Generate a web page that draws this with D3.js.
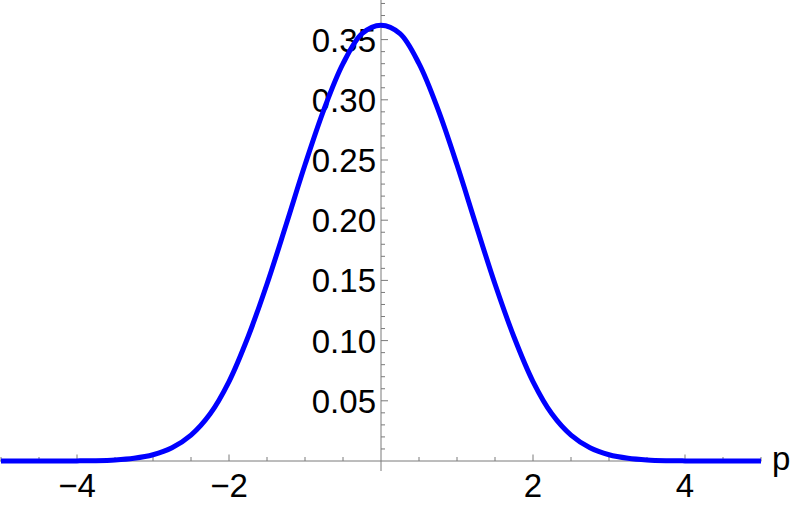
<!DOCTYPE html>
<html>
<head>
<meta charset="utf-8">
<script src="https://cdn.jsdelivr.net/npm/d3@7"></script>
<style>
  html, body { margin: 0; padding: 0; background: #fff; }
  svg { display: block; }
  text { font-family: "Liberation Sans", Arial, Helvetica, sans-serif; }
</style>
</head>
<body>
<svg id="chart" width="793" height="505"></svg>
<script>
// ---- data ----
const pValues = [-5, -4.5, -4, -3.75, -3.5, -3.25, -3, -2.75, -2.5, -2.25, -2, -1.75, -1.5, -1.25, -1, -0.75, -0.5, -0.25, 0,
                 0.25, 0.5, 0.75, 1, 1.25, 1.5, 1.75, 2, 2.25, 2.5, 2.75, 3, 3.25, 3.5, 3.75, 4, 4.5, 5];
const density = [0, 0.00001, 0.0001, 0.0003, 0.0009, 0.0023, 0.0052, 0.011, 0.0215, 0.039, 0.066, 0.103, 0.147, 0.196, 0.246, 0.292, 0.330, 0.355, 0.362,
                 0.355, 0.330, 0.292, 0.246, 0.196, 0.147, 0.103, 0.066, 0.039, 0.0215, 0.011, 0.0052, 0.0023, 0.0009, 0.0003, 0.0001, 0.00001, 0];
const xMajorTicks = [-4, -2, 2, 4];
const xTickLabels = ["\u22124", "\u22122", "2", "4"];
const yMajorTicks = [0.05, 0.10, 0.15, 0.20, 0.25, 0.30, 0.35];
const yTickLabels = ["0.05", "0.10", "0.15", "0.20", "0.25", "0.30", "0.35"];
const xAxisLabel = "p";

// ---- layout ----
const svg = d3.select("#chart");
const x = d3.scaleLinear().domain([-5, 5]).range([1, 761]);
const y = d3.scaleLinear().domain([0, 0.35]).range([461, 39.6]);
const axisColor = "#7a7a7a";

// x axis line
svg.append("line")
  .attr("x1", 0).attr("x2", x(5) + 0.5)
  .attr("y1", y(0)).attr("y2", y(0))
  .attr("stroke", axisColor).attr("stroke-width", 1);

// y axis line
svg.append("line")
  .attr("x1", x(0)).attr("x2", x(0))
  .attr("y1", 0).attr("y2", y(0) + 10)
  .attr("stroke", axisColor).attr("stroke-width", 1);

// x ticks (minor every 0.5, major at even integers)
const xMinor = d3.range(-5, 5.01, 0.5).filter(v => Math.abs(v) > 1e-9);
svg.append("g").selectAll("line").data(xMinor).join("line")
  .attr("x1", d => x(d)).attr("x2", d => x(d))
  .attr("y1", y(0))
  .attr("y2", d => y(0) - (xMajorTicks.some(m => Math.abs(m - d) < 1e-9) ? 6.5 : 4))
  .attr("stroke", axisColor).attr("stroke-width", 1);

// y ticks (minor every 0.01, major every 0.05)
const yMinor = d3.range(1, 39).map(i => i / 100);
svg.append("g").selectAll("line").data(yMinor).join("line")
  .attr("x1", x(0))
  .attr("x2", (d, i) => x(0) + ((i + 1) % 5 === 0 ? 7 : 4))
  .attr("y1", d => y(d)).attr("y2", d => y(d))
  .attr("stroke", axisColor).attr("stroke-width", 1);

// tick labels
svg.append("g").selectAll("text").data(xMajorTicks).join("text")
  .attr("x", d => x(d)).attr("y", y(0) + 36)
  .attr("text-anchor", "middle")
  .attr("font-size", 33).attr("fill", "#000")
  .text((d, i) => xTickLabels[i]);

svg.append("g").selectAll("text").data(yMajorTicks).join("text")
  .attr("x", x(0) - 5).attr("y", d => y(d) + 12)
  .attr("text-anchor", "end")
  .attr("font-size", 33).attr("fill", "#000")
  .text((d, i) => yTickLabels[i]);

// axis label
svg.append("text")
  .attr("x", 772).attr("y", y(0) + 9)
  .attr("font-size", 33).attr("fill", "#000")
  .text(xAxisLabel);

// curve
const pts = pValues.map((p, i) => [p, density[i]]);
const line = d3.line()
  .x(d => x(d[0])).y(d => y(d[1]))
  .curve(d3.curveCatmullRom.alpha(0.5));
svg.append("path")
  .datum(pts)
  .attr("d", line)
  .attr("fill", "none")
  .attr("stroke", "#0000ff")
  .attr("stroke-width", 5)
  .attr("stroke-linejoin", "round");
</script>
</body>
</html>
